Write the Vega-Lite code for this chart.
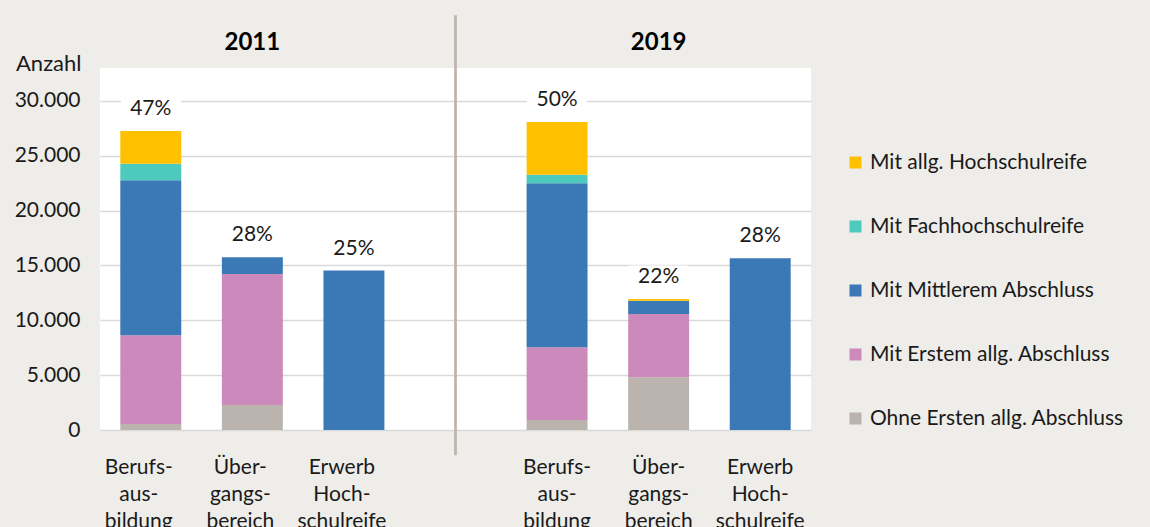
{
  "$schema": "https://vega.github.io/schema/vega-lite/v6.json",
  "width": 711,
  "height": 362,
  "autosize": {"type": "none"},
  "padding": {"left": 100, "top": 68, "right": 339, "bottom": 97},
  "background": "#EFEDE9",
  "config": {
    "view": {"fill": "white", "stroke": null},
    "font": "Lato",
    "legend": {
      "orient": "none",
      "legendX": 745,
      "legendY": 84,
      "symbolType": "square",
      "symbolSize": 144,
      "symbolStrokeWidth": 0,
      "labelFontSize": 21,
      "labelColor": "#1a1a1a",
      "labelLimit": 400,
      "rowPadding": 42,
      "labelOffset": 4,
      "padding": 0
    }
  },
  "datasets": {
    "werte": [
      {"jahr": "2011", "bereich": "Berufs-|aus-|bildung", "abschluss": "Ohne Ersten allg. Abschluss", "anzahl": 550, "anteil": "47%"},
      {"jahr": "2011", "bereich": "Berufs-|aus-|bildung", "abschluss": "Mit Erstem allg. Abschluss", "anzahl": 8080, "anteil": "47%"},
      {"jahr": "2011", "bereich": "Berufs-|aus-|bildung", "abschluss": "Mit Mittlerem Abschluss", "anzahl": 14140, "anteil": "47%"},
      {"jahr": "2011", "bereich": "Berufs-|aus-|bildung", "abschluss": "Mit Fachhochschulreife", "anzahl": 1510, "anteil": "47%"},
      {"jahr": "2011", "bereich": "Berufs-|aus-|bildung", "abschluss": "Mit allg. Hochschulreife", "anzahl": 2980, "anteil": "47%"},
      {"jahr": "2011", "bereich": "Über-|gangs-|bereich", "abschluss": "Ohne Ersten allg. Abschluss", "anzahl": 2280, "anteil": "28%"},
      {"jahr": "2011", "bereich": "Über-|gangs-|bereich", "abschluss": "Mit Erstem allg. Abschluss", "anzahl": 11940, "anteil": "28%"},
      {"jahr": "2011", "bereich": "Über-|gangs-|bereich", "abschluss": "Mit Mittlerem Abschluss", "anzahl": 1530, "anteil": "28%"},
      {"jahr": "2011", "bereich": "Erwerb|Hoch-|schulreife", "abschluss": "Mit Mittlerem Abschluss", "anzahl": 14530, "anteil": "25%"},
      {"jahr": "2019", "bereich": "Berufs-|aus-|bildung", "abschluss": "Ohne Ersten allg. Abschluss", "anzahl": 910, "anteil": "50%"},
      {"jahr": "2019", "bereich": "Berufs-|aus-|bildung", "abschluss": "Mit Erstem allg. Abschluss", "anzahl": 6630, "anteil": "50%"},
      {"jahr": "2019", "bereich": "Berufs-|aus-|bildung", "abschluss": "Mit Mittlerem Abschluss", "anzahl": 14950, "anteil": "50%"},
      {"jahr": "2019", "bereich": "Berufs-|aus-|bildung", "abschluss": "Mit Fachhochschulreife", "anzahl": 790, "anteil": "50%"},
      {"jahr": "2019", "bereich": "Berufs-|aus-|bildung", "abschluss": "Mit allg. Hochschulreife", "anzahl": 4800, "anteil": "50%"},
      {"jahr": "2019", "bereich": "Über-|gangs-|bereich", "abschluss": "Ohne Ersten allg. Abschluss", "anzahl": 4800, "anteil": "22%"},
      {"jahr": "2019", "bereich": "Über-|gangs-|bereich", "abschluss": "Mit Erstem allg. Abschluss", "anzahl": 5780, "anteil": "22%"},
      {"jahr": "2019", "bereich": "Über-|gangs-|bereich", "abschluss": "Mit Mittlerem Abschluss", "anzahl": 1210, "anteil": "22%"},
      {"jahr": "2019", "bereich": "Über-|gangs-|bereich", "abschluss": "Mit allg. Hochschulreife", "anzahl": 150, "anteil": "22%"},
      {"jahr": "2019", "bereich": "Erwerb|Hoch-|schulreife", "abschluss": "Mit Mittlerem Abschluss", "anzahl": 15650, "anteil": "28%"}
    ]
  },
  "layer": [
    {
      "data": {"name": "werte"},
      "transform": [
        {"calculate": "datum.jahr + '#' + datum.bereich", "as": "key"},
        {"calculate": "indexof(['Ohne Ersten allg. Abschluss','Mit Erstem allg. Abschluss','Mit Mittlerem Abschluss','Mit Fachhochschulreife','Mit allg. Hochschulreife'], datum.abschluss)", "as": "rang"}
      ],
      "mark": {"type": "bar"},
      "encoding": {
        "x": {
          "field": "key",
          "type": "nominal",
          "sort": null,
          "scale": {
            "domain": ["2011#Berufs-|aus-|bildung", "2011#Über-|gangs-|bereich", "2011#Erwerb|Hoch-|schulreife", "#", "2019#Berufs-|aus-|bildung", "2019#Über-|gangs-|bereich", "2019#Erwerb|Hoch-|schulreife"],
            "paddingInner": 0.4,
            "paddingOuter": 0.2
          },
          "axis": {
            "orient": "bottom",
            "title": null,
            "labelExpr": "split(split(datum.label, '#')[1], '|')",
            "labelAngle": 0,
            "labelFontSize": 21,
            "labelColor": "#1a1a1a",
            "labelLineHeight": 27,
            "labelPadding": 26,
            "labelOffset": {"condition": {"test": "indexof(datum.label, '2011') == 0", "value": -12}, "value": 0},
            "ticks": false,
            "domain": false,
            "grid": false
          }
        },
        "y": {
          "aggregate": "sum",
          "field": "anzahl",
          "type": "quantitative",
          "stack": "zero",
          "scale": {"domain": [0, 33000], "nice": false},
          "axis": {
            "title": "Anzahl",
            "titleAngle": 0,
            "titleAlign": "right",
            "titleBaseline": "alphabetic",
            "titleX": -19,
            "titleY": 2,
            "titleFontSize": 22,
            "titleFontWeight": "normal",
            "titleColor": "#1a1a1a",
            "values": [0, 5000, 10000, 15000, 20000, 25000, 30000],
            "labelExpr": "replace(format(datum.value, ','), ',', '.')",
            "labelFontSize": 21,
            "labelColor": "#1a1a1a",
            "labelPadding": 20,
            "ticks": false,
            "domain": false,
            "gridColor": "#D9D9D9",
            "gridWidth": 1.5
          }
        },
        "color": {
          "field": "abschluss",
          "type": "nominal",
          "title": null,
          "scale": {
            "domain": ["Mit allg. Hochschulreife", "Mit Fachhochschulreife", "Mit Mittlerem Abschluss", "Mit Erstem allg. Abschluss", "Ohne Ersten allg. Abschluss"],
            "range": ["#FFC000", "#4EC9BD", "#3B78B6", "#CB8ABB", "#BBB3AD"]
          }
        },
        "order": {"field": "rang", "type": "quantitative", "sort": "ascending"}
      }
    },
    {
      "data": {"name": "werte"},
      "transform": [
        {"calculate": "datum.jahr + '#' + datum.bereich", "as": "key"},
        {"aggregate": [{"op": "sum", "field": "anzahl", "as": "summe"}], "groupby": ["key", "anteil"]}
      ],
      "mark": {"type": "point", "shape": "M-1,-0.38H1V0.38H-1Z", "size": 3600, "filled": true, "color": "white", "opacity": 1, "strokeWidth": 0, "yOffset": -22},
      "encoding": {
        "x": {"field": "key", "type": "nominal", "axis": null},
        "y": {"field": "summe", "type": "quantitative", "axis": null}
      }
    },
    {
      "data": {"name": "werte"},
      "transform": [
        {"calculate": "datum.jahr + '#' + datum.bereich", "as": "key"},
        {"aggregate": [{"op": "sum", "field": "anzahl", "as": "summe"}], "groupby": ["key", "anteil"]}
      ],
      "mark": {"type": "text", "fontSize": 21, "color": "#1a1a1a", "align": "center", "baseline": "middle", "yOffset": -22},
      "encoding": {
        "x": {"field": "key", "type": "nominal", "axis": null},
        "y": {"field": "summe", "type": "quantitative", "axis": null},
        "text": {"field": "anteil"}
      }
    },
    {
      "data": {"values": [{"key": "#"}]},
      "mark": {"type": "rule", "color": "#BBB3AD", "strokeWidth": 2.7},
      "encoding": {
        "x": {
          "field": "key",
          "type": "nominal",
          "axis": {
            "orient": "top",
            "title": null,
            "labelExpr": "indexof(datum.label, 'Über') > 0 ? split(datum.label, '#')[0] : ''",
            "labelAngle": 0,
            "labelFontSize": 24,
            "labelFontWeight": "bold",
            "labelColor": "#000000",
            "labelPadding": 14,
            "ticks": false,
            "domain": false,
            "grid": false
          }
        },
        "y": {"datum": -2300, "type": "quantitative", "axis": null},
        "y2": {"datum": 37800}
      }
    }
  ],
  "resolve": {"axis": {"x": "independent", "y": "independent"}}
}
